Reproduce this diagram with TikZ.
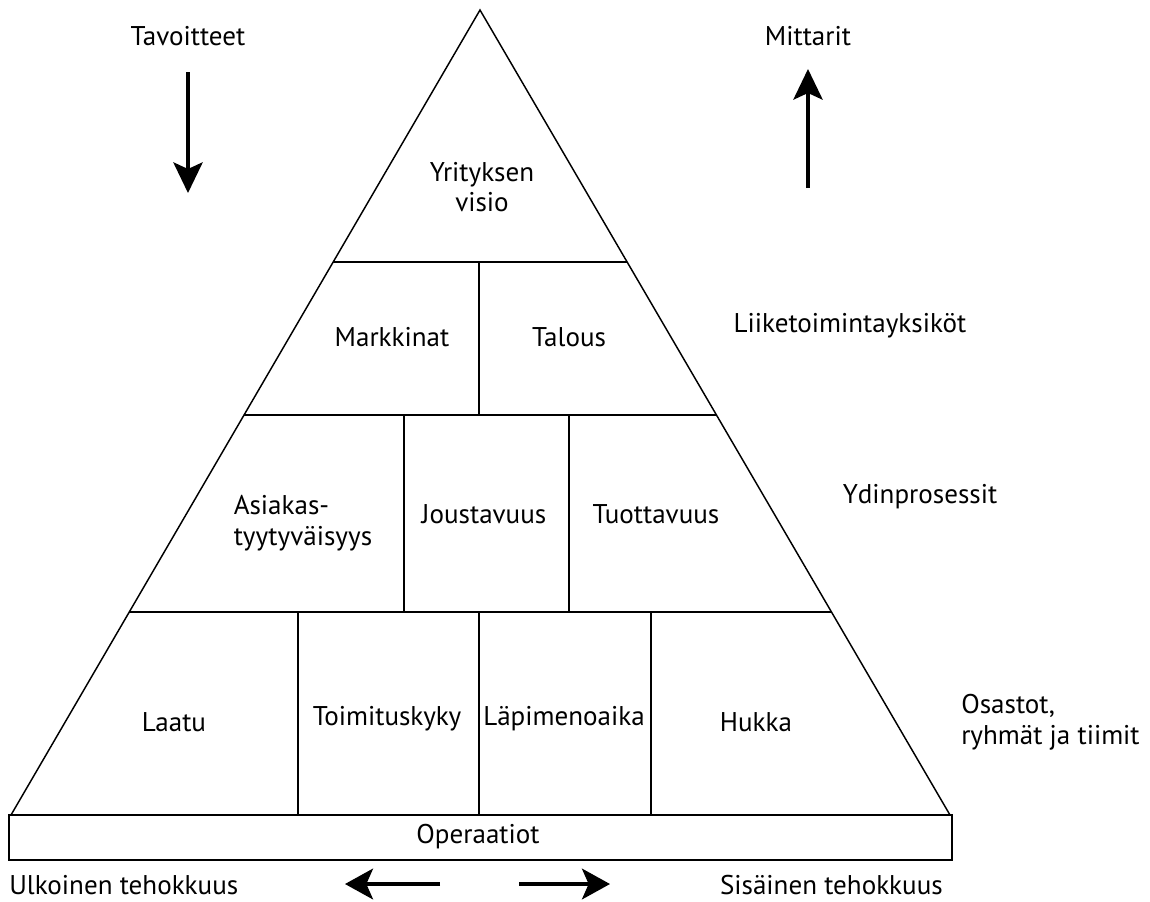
\documentclass[tikz,border=0pt]{standalone}
\usepackage{fontspec}
\setmainfont{PT Sans}
\usetikzlibrary{calc,arrows.meta}
\begin{document}
\begin{tikzpicture}[x=0.75pt,y=-0.75pt,
  lbl/.style={font=\fontsize{20.3}{23}\selectfont, inner sep=0pt, align=center},
  lbll/.style={font=\fontsize{20.3}{23}\selectfont, inner sep=0pt, align=left},
  frame/.style={line width=1.1pt},
  bigarrow/.style={line width=2.4pt, -{Stealth[length=23pt,width=22pt,inset=5pt]}},
  sidearrow/.style={line width=2.8pt, -{Stealth[length=21pt,width=23pt,inset=5pt]}}]
\useasboundingbox (0,0) rectangle (1150,901);
% pyramid corners
\coordinate (A) at (480,10);
\coordinate (L) at (11,815);
\coordinate (R) at (950,815);
% row boundaries
\foreach \t/\n in {0.3130/a,0.5031/b,0.7478/c}{
  \coordinate (l\n) at ($(A)!\t!(L)$);
  \coordinate (r\n) at ($(A)!\t!(R)$);
}
\draw[frame] (L) -- (A) -- (R);
\draw[frame] (la) -- (ra);
\draw[frame] (lb) -- (rb);
\draw[frame] (lc) -- (rc);
% vertical dividers
\draw[frame] (479,262) -- (479,415);
\draw[frame] (404,415) -- (404,612);
\draw[frame] (569,415) -- (569,612);
\draw[frame] (298,612) -- (298,815);
\draw[frame] (479,612) -- (479,815);
\draw[frame] (651,612) -- (651,815);
% operations bar
\draw[frame] (9,815) rectangle (952,860);
\node[lbl] (oper) at (478,837) {Operaatiot};
% cell labels
\node[lbl] (visio) at (482,187) {Yrityksen\\visio};
\node[lbl] (mark) at (392,337) {Markkinat};
\node[lbl] (tal) at (569,337) {Talous};
\node[lbll] (asiak) at (303,523) {Asiakas-\\tyytyväisyys};
\node[lbl] (jous) at (484,514) {Joustavuus};
\node[lbl] (tuot) at (656,514) {Tuottavuus};
\node[lbl] (laatu) at (174,722) {Laatu};
\node[lbl] (toim) at (387,719) {Toimituskyky};
\node[lbl] (lapi) at (564,719) {Läpimenoaika};
\node[lbl] (hukka) at (756,722) {Hukka};
% side labels
\node[lbl] (liik) at (850,326) {Liiketoimintayksiköt};
\node[lbl] (ydin) at (920,497) {Ydinprosessit};
\node[lbll, anchor=west] (osas) at (961,722) {Osastot,\\ryhmät ja tiimit};
\node[lbl] (tav) at (188,36) {Tavoitteet};
\node[lbl] (mitt) at (808,36) {Mittarit};
\node[lbl, anchor=west] (ulk) at (9,885) {Ulkoinen tehokkuus};
\node[lbl, anchor=east] (sis) at (943,885) {Sisäinen tehokkuus};
% arrows
\coordinate (d1) at (188,72);
\coordinate (d2) at (188,193);
\coordinate (u1) at (808,188);
\coordinate (u2) at (808,69);
\coordinate (la1) at (440,884);
\coordinate (la2) at (345,884);
\coordinate (ra1) at (519,884);
\coordinate (ra2) at (610,884);
\draw[bigarrow] (d1) -- (d2);
\draw[bigarrow] (u1) -- (u2);
\draw[sidearrow] (la1) -- (la2);
\draw[sidearrow] (ra1) -- (ra2);
\end{tikzpicture}
\end{document}
